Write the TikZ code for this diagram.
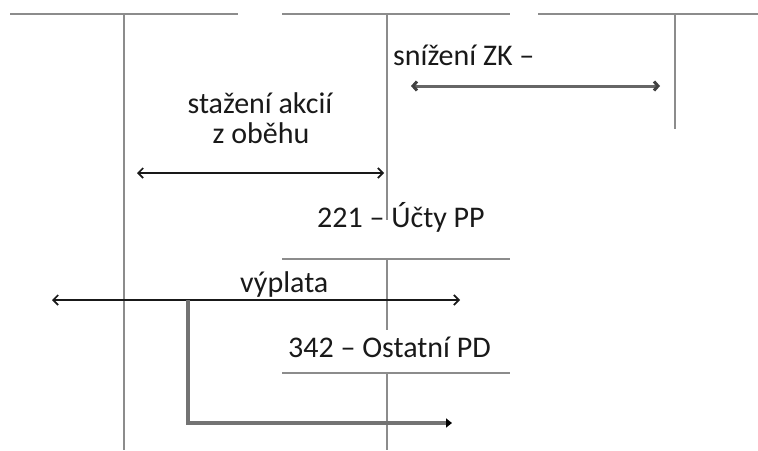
\documentclass[tikz,border=0pt]{standalone}
\usepackage{fontspec}
\setmainfont{Carlito}
\usetikzlibrary{arrows.meta}
\begin{document}
\begin{tikzpicture}[x=1pt,y=-1pt,
  tline/.style={draw=black!45,line width=1.4pt},
  arr/.style={draw=black!90,line width=1.7pt,{Straight Barb[length=5pt,width=10pt]}-{Straight Barb[length=5pt,width=10pt]}},
  garr/.style={draw=black!60,line width=3pt,{Straight Barb[length=4pt,width=9pt,black!75]}-{Straight Barb[length=4pt,width=9pt,black!75]}},
  larr/.style={draw=black!55,line width=3.2pt,-{Triangle[length=6pt,width=9pt,black]}},
  lbl/.style={inner sep=0pt,text=black!90,font=\fontsize{30}{30}\selectfont}]
\useasboundingbox (0,0) rectangle (758,450);
% T-account lines
\coordinate (t1a) at (10,14);  \coordinate (t1b) at (238,14);
\coordinate (t2a) at (282,14); \coordinate (t2b) at (510,14);
\coordinate (t3a) at (538,14); \coordinate (t3b) at (758,14);
\coordinate (v1a) at (124,14); \coordinate (v1b) at (124,450);
\coordinate (v2a) at (387,14); \coordinate (v2b) at (387,220);
\coordinate (v3a) at (675,14); \coordinate (v3b) at (675,129);
\coordinate (h4a) at (282,259); \coordinate (h4b) at (510,259);
\coordinate (v4a) at (387,259); \coordinate (v4b) at (387,330);
\coordinate (h5a) at (282,373); \coordinate (h5b) at (510,373);
\coordinate (v5a) at (387,373); \coordinate (v5b) at (387,450);
\draw[tline] (t1a) -- (t1b);
\draw[tline] (t2a) -- (t2b);
\draw[tline] (t3a) -- (t3b);
\draw[tline] (v1a) -- (v1b);
\draw[tline] (v2a) -- (v2b);
\draw[tline] (v3a) -- (v3b);
\draw[tline] (h4a) -- (h4b);
\draw[tline] (v4a) -- (v4b);
\draw[tline] (h5a) -- (h5b);
\draw[tline] (v5a) -- (v5b);
% labels
\node[lbl,anchor=base west] (zk) at (393,65) {snížení ZK –};
\node[lbl,anchor=base] (st1) at (260,113) {stažení akcií};
\node[lbl,anchor=base] (st2) at (261,143) {z oběhu};
\node[lbl,anchor=base west] (u221) at (317,227) {221 – Účty PP};
\node[lbl,anchor=base west] (vyp) at (240,292) {výplata};
\node[lbl,anchor=base west] (u342) at (288,357) {342 – Ostatní PD};
% arrows
\coordinate (a1l) at (411,86);  \coordinate (a1r) at (660,86);
\coordinate (a2l) at (137,173); \coordinate (a2r) at (384,173);
\coordinate (a3l) at (52,300);  \coordinate (a3r) at (460,300);
\coordinate (l1) at (188,300);  \coordinate (l2) at (188,423); \coordinate (l3) at (452,423);
\draw[garr] (a1l) -- (a1r);
\draw[arr] (a2l) -- (a2r);
\draw[arr] (a3l) -- (a3r);
\draw[larr] (l1) -- (l2) -- (l3);
\end{tikzpicture}
\end{document}
